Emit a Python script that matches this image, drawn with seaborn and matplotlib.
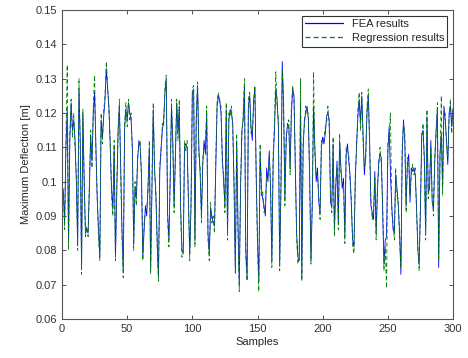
import numpy as np
import pandas as pd
import matplotlib
matplotlib.use('Agg')
import matplotlib.pyplot as plt
from matplotlib.lines import Line2D
import seaborn as sns

# values, samples 1..300
fea = [0.097, 0.088, 0.110, 0.121, 0.082, 0.112, 0.123, 0.115, 0.118, 0.112,
       0.100, 0.082, 0.127, 0.112, 0.075, 0.120, 0.101, 0.085, 0.086, 0.085,
       0.098, 0.113, 0.106, 0.120, 0.126, 0.110, 0.095, 0.086, 0.078, 0.118,
       0.113, 0.119, 0.124, 0.133, 0.127, 0.122, 0.110, 0.098, 0.092, 0.110,
       0.078, 0.097, 0.115, 0.122, 0.105, 0.086, 0.074, 0.115, 0.121, 0.118,
       0.123, 0.120, 0.118, 0.110, 0.082, 0.098, 0.095, 0.106, 0.112, 0.110,
       0.102, 0.078, 0.086, 0.093, 0.090, 0.099, 0.110, 0.074, 0.098, 0.121,
       0.104, 0.096, 0.083, 0.072, 0.103, 0.110, 0.115, 0.118, 0.126, 0.130,
       0.091, 0.083, 0.100, 0.122, 0.112, 0.093, 0.107, 0.123, 0.114, 0.122,
       0.093, 0.080, 0.079, 0.110, 0.111, 0.110, 0.095, 0.079, 0.093, 0.126,
       0.127, 0.083, 0.118, 0.128, 0.110, 0.102, 0.090, 0.105, 0.112, 0.108,
       0.120, 0.085, 0.079, 0.092, 0.090, 0.088, 0.087, 0.105, 0.122, 0.125,
       0.124, 0.120, 0.107, 0.100, 0.093, 0.121, 0.085, 0.118, 0.121, 0.120,
       0.117, 0.098, 0.074, 0.112, 0.088, 0.070, 0.098, 0.115, 0.118, 0.128,
       0.080, 0.072, 0.122, 0.125, 0.116, 0.112, 0.124, 0.127, 0.102, 0.083,
       0.071, 0.109, 0.098, 0.095, 0.093, 0.090, 0.104, 0.100, 0.109, 0.098,
       0.077, 0.106, 0.115, 0.127, 0.124, 0.116, 0.076, 0.098, 0.135, 0.122,
       0.095, 0.112, 0.117, 0.116, 0.104, 0.120, 0.127, 0.125, 0.104, 0.085,
       0.078, 0.077, 0.123, 0.072, 0.110, 0.118, 0.120, 0.122, 0.118, 0.102,
       0.077, 0.093, 0.122, 0.110, 0.100, 0.104, 0.094, 0.091, 0.110, 0.113,
       0.111, 0.114, 0.119, 0.120, 0.118, 0.094, 0.093, 0.111, 0.086, 0.098,
       0.106, 0.088, 0.112, 0.104, 0.098, 0.101, 0.084, 0.108, 0.111, 0.106,
       0.102, 0.093, 0.083, 0.081, 0.100, 0.111, 0.119, 0.124, 0.117, 0.125,
       0.113, 0.102, 0.108, 0.120, 0.125, 0.112, 0.093, 0.091, 0.089, 0.103,
       0.085, 0.097, 0.106, 0.108, 0.107, 0.092, 0.076, 0.083, 0.084, 0.109,
       0.116, 0.102, 0.093, 0.086, 0.085, 0.102, 0.098, 0.093, 0.085, 0.073,
       0.108, 0.118, 0.112, 0.093, 0.105, 0.108, 0.094, 0.104, 0.103, 0.104,
       0.102, 0.093, 0.080, 0.076, 0.092, 0.114, 0.115, 0.107, 0.085, 0.119,
       0.097, 0.098, 0.112, 0.094, 0.092, 0.106, 0.115, 0.121, 0.075, 0.108,
       0.114, 0.098, 0.122, 0.118, 0.112, 0.105, 0.120, 0.122, 0.116, 0.121]

regression = [0.098, 0.086, 0.112, 0.134, 0.080, 0.114, 0.124, 0.113, 0.120, 0.110,
              0.101, 0.080, 0.130, 0.110, 0.073, 0.121, 0.099, 0.084, 0.087, 0.084,
              0.099, 0.115, 0.104, 0.122, 0.131, 0.108, 0.096, 0.084, 0.077, 0.120,
              0.111, 0.121, 0.125, 0.135, 0.128, 0.120, 0.112, 0.096, 0.090, 0.112,
              0.077, 0.099, 0.113, 0.124, 0.103, 0.084, 0.072, 0.117, 0.123, 0.116,
              0.124, 0.118, 0.120, 0.108, 0.080, 0.100, 0.093, 0.108, 0.110, 0.112,
              0.100, 0.077, 0.088, 0.091, 0.092, 0.097, 0.112, 0.073, 0.100, 0.123,
              0.102, 0.098, 0.081, 0.071, 0.105, 0.108, 0.117, 0.116, 0.128, 0.131,
              0.089, 0.081, 0.102, 0.124, 0.110, 0.091, 0.109, 0.124, 0.112, 0.124,
              0.091, 0.078, 0.081, 0.112, 0.109, 0.112, 0.093, 0.077, 0.095, 0.127,
              0.128, 0.081, 0.120, 0.129, 0.108, 0.104, 0.088, 0.107, 0.110, 0.110,
              0.122, 0.083, 0.077, 0.094, 0.088, 0.090, 0.085, 0.107, 0.124, 0.126,
              0.122, 0.122, 0.105, 0.102, 0.091, 0.123, 0.083, 0.120, 0.119, 0.122,
              0.115, 0.100, 0.073, 0.114, 0.086, 0.068, 0.100, 0.113, 0.120, 0.130,
              0.078, 0.071, 0.124, 0.126, 0.114, 0.114, 0.122, 0.128, 0.100, 0.081,
              0.068, 0.111, 0.096, 0.097, 0.091, 0.092, 0.102, 0.102, 0.107, 0.100,
              0.075, 0.108, 0.117, 0.132, 0.122, 0.118, 0.074, 0.100, 0.133, 0.124,
              0.093, 0.114, 0.115, 0.118, 0.102, 0.122, 0.128, 0.123, 0.106, 0.083,
              0.076, 0.079, 0.130, 0.071, 0.112, 0.116, 0.122, 0.120, 0.120, 0.100,
              0.076, 0.095, 0.132, 0.108, 0.102, 0.102, 0.096, 0.089, 0.112, 0.111,
              0.113, 0.116, 0.117, 0.122, 0.116, 0.096, 0.091, 0.113, 0.084, 0.100,
              0.104, 0.086, 0.114, 0.102, 0.100, 0.099, 0.082, 0.110, 0.109, 0.108,
              0.100, 0.095, 0.081, 0.079, 0.102, 0.109, 0.121, 0.126, 0.115, 0.126,
              0.111, 0.104, 0.106, 0.122, 0.127, 0.110, 0.095, 0.089, 0.091, 0.101,
              0.083, 0.099, 0.104, 0.110, 0.105, 0.094, 0.074, 0.081, 0.069, 0.111,
              0.114, 0.120, 0.091, 0.088, 0.083, 0.104, 0.096, 0.095, 0.083, 0.075,
              0.110, 0.117, 0.114, 0.091, 0.107, 0.106, 0.096, 0.102, 0.105, 0.102,
              0.104, 0.091, 0.082, 0.074, 0.094, 0.112, 0.117, 0.105, 0.083, 0.121,
              0.095, 0.100, 0.110, 0.096, 0.090, 0.108, 0.113, 0.123, 0.077, 0.106,
              0.125, 0.096, 0.120, 0.120, 0.110, 0.107, 0.118, 0.124, 0.114, 0.122]

samples = np.arange(1, len(fea) + 1)

sns.set_style('ticks')
plt.rcParams['font.family'] = ['Liberation Sans', 'DejaVu Sans']
plt.rcParams['xtick.direction'] = 'in'
plt.rcParams['ytick.direction'] = 'in'

fig = plt.figure(figsize=(4.68, 3.58), dpi=100)
ax = fig.add_axes([0.1325, 0.109, 0.8355, 0.863])

blue, green = '#0000ff', '#008000'
sns.lineplot(x=samples, y=fea, color=blue, lw=0.6, ax=ax)
sns.lineplot(x=samples, y=regression, color=green, lw=0.6, ax=ax)
ax.lines[1].set_linestyle((0, (5, 3)))

ax.set_xlim(0, 300)
ax.set_ylim(0.06, 0.15)
ax.set_xticks(np.arange(0, 301, 50))
ax.set_yticks(np.arange(0.06, 0.151, 0.01))
ax.set_yticklabels(['0.06', '0.07', '0.08', '0.09', '0.1', '0.11', '0.12', '0.13', '0.14', '0.15'])
ax.tick_params(labelsize=8, length=3, width=0.6, colors='#333333', top=True, right=True)
for s in ax.spines.values():
    s.set_visible(True)
    s.set_color('#555555')
    s.set_linewidth(0.8)
ax.set_xlabel('Samples', fontsize=8, labelpad=2)
ax.set_ylabel('Maximum Deflection [m]', fontsize=8, labelpad=3)

handles = [Line2D([], [], color=blue, lw=0.9),
           Line2D([], [], color=green, lw=0.9, linestyle=(0, (4, 2.5)))]
leg = ax.legend(handles, ['FEA results', 'Regression results'],
                loc='upper right', fontsize=8, fancybox=False, framealpha=1,
                edgecolor='#333333', handlelength=3.4, borderaxespad=0.5,
                labelspacing=0.4, borderpad=0.3)
leg.get_frame().set_linewidth(0.8)

fig.savefig('out.png', dpi=100)
